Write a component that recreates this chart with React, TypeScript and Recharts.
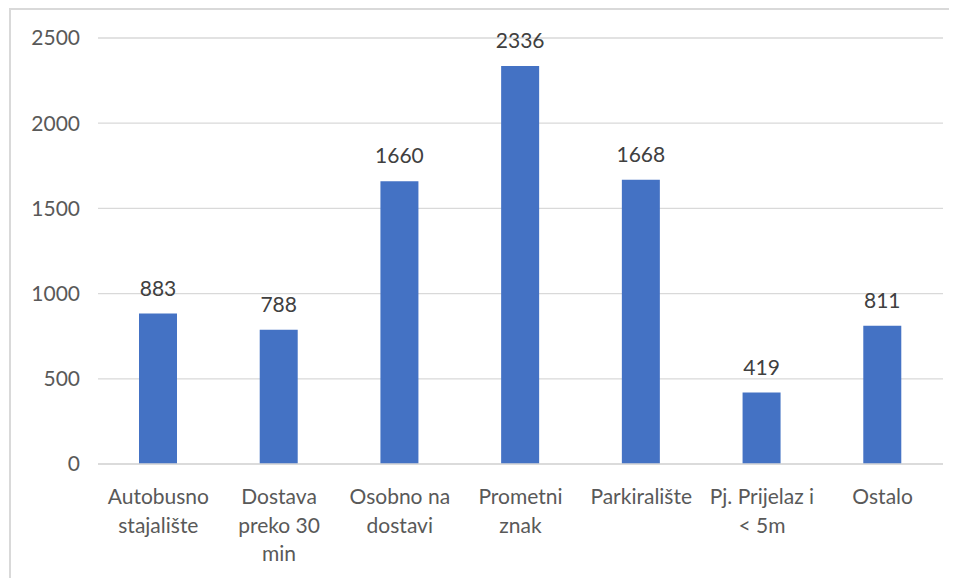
import React from "react";
import { BarChart, Bar, XAxis, YAxis, CartesianGrid, LabelList } from "recharts";

const categories = [
  "Autobusno stajalište",
  "Dostava preko 30 min",
  "Osobno na dostavi",
  "Prometni znak",
  "Parkiralište",
  "Pj. Prijelaz i < 5m",
  "Ostalo",
];
const tickLines: string[][] = [
  ["Autobusno", "stajalište"],
  ["Dostava", "preko 30", "min"],
  ["Osobno na", "dostavi"],
  ["Prometni", "znak"],
  ["Parkiralište"],
  ["Pj. Prijelaz i", "< 5m"],
  ["Ostalo"],
];
const values = [883, 788, 1660, 2336, 1668, 419, 811];
const yTicks = [0, 500, 1000, 1500, 2000, 2500];

const data = categories.map((c, i) => ({ name: c, value: values[i] }));

const FONT = "Lato, 'Open Sans', sans-serif";

const XTick = (props: any) => {
  const { x, y, payload } = props;
  const idx = categories.indexOf(payload.value);
  const lines = idx >= 0 ? tickLines[idx] : [payload.value];
  return (
    <g transform={`translate(${x},${y})`}>
      {lines.map((l, i) => (
        <text
          key={i}
          x={0}
          y={0}
          dy={32 + i * 28.5}
          textAnchor="middle"
          fill="#595959"
          fontSize={21}
          fontFamily={FONT}
        >
          {l}
        </text>
      ))}
    </g>
  );
};

export default function App() {
  return (
    <div style={{ position: "relative", width: 949, height: 570 }}>
      <div
        style={{
          position: "absolute",
          left: 1,
          top: 0,
          width: 948,
          height: 570,
          borderLeft: "2px solid #d9d9d9",
          borderTop: "2px solid #d9d9d9",
          boxSizing: "border-box",
          pointerEvents: "none",
        }}
      />
      <BarChart
        width={949}
        height={570}
        data={data}
        margin={{ top: 30, right: 14, bottom: 0, left: 0 }}
        barCategoryGap="34%"
      >
        <CartesianGrid vertical={false} stroke="#d9d9d9" strokeWidth={1.3} />
        <XAxis
          dataKey="name"
          interval={0}
          height={114}
          tickLine={false}
          axisLine={{ stroke: "#d9d9d9", strokeWidth: 1.3 }}
          tick={<XTick />}
        />
        <YAxis
          width={90}
          domain={[0, 2500]}
          ticks={yTicks}
          axisLine={false}
          tickLine={false}
          tickSize={0}
          tickMargin={18}
          tick={{ fill: "#595959", fontSize: 21, fontFamily: FONT }}
        />
        <Bar dataKey="value" fill="#4472c4" barSize={38} isAnimationActive={false}>
          <LabelList
            dataKey="value"
            position="top"
            offset={18}
            fill="#404040"
            fontSize={21}
            fontFamily={FONT}
          />
        </Bar>
      </BarChart>
    </div>
  );
}
